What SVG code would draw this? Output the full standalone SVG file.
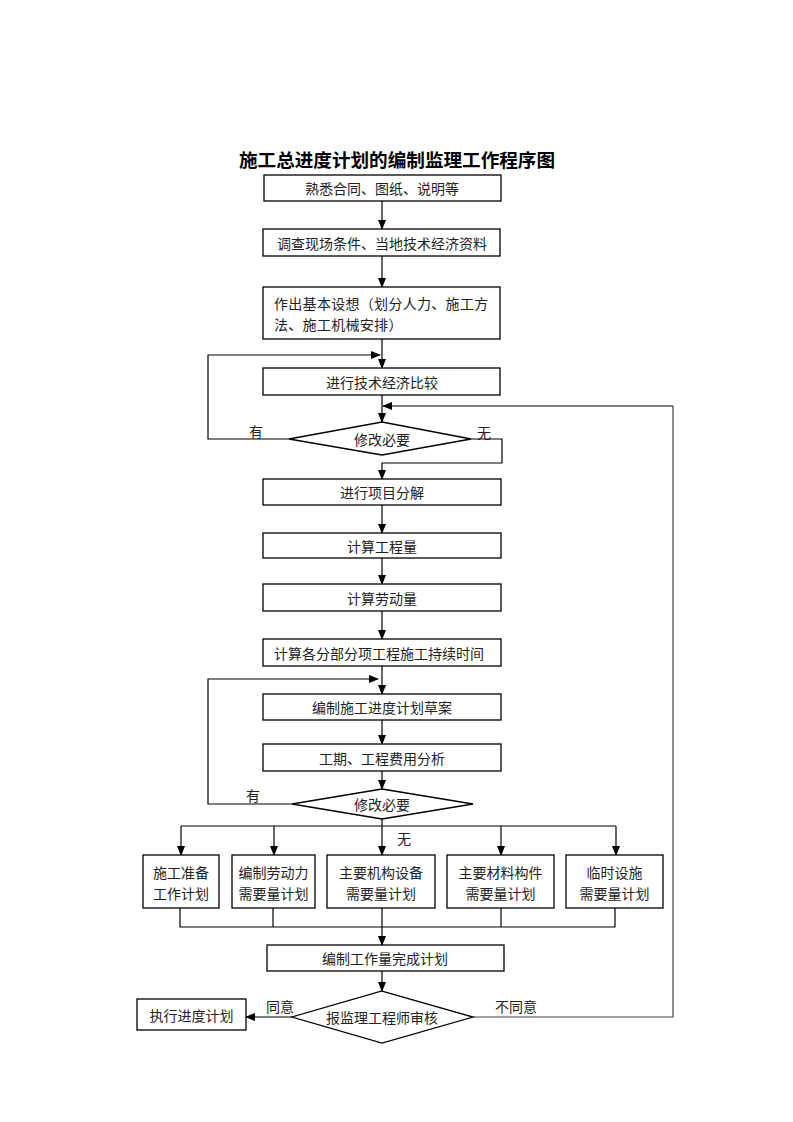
<svg xmlns="http://www.w3.org/2000/svg" width="793" height="1122" viewBox="0 0 793 1122">
<defs>
<marker id="ah" markerWidth="10" markerHeight="10" refX="9" refY="5" orient="auto" markerUnits="userSpaceOnUse" viewBox="0 0 10 10">
<path d="M0,1 L10,5 L0,9 z" fill="#000"/>
</marker>
<style>
.box{fill:#fff;stroke:#000;stroke-width:1.3}
.t{font-family:"Noto Sans CJK SC","Noto Sans CJK JP",sans-serif;font-size:14px;fill:#222;text-anchor:middle;dominant-baseline:central}
.tl{font-family:"Noto Sans CJK SC","Noto Sans CJK JP",sans-serif;font-size:14px;letter-spacing:0.3px;fill:#222;dominant-baseline:central}
.c{fill:none;stroke:#000;stroke-width:1.2}
.a{fill:none;stroke:#000;stroke-width:1.2;marker-end:url(#ah)}
.title{font-family:"Noto Sans CJK SC","Noto Sans CJK JP",sans-serif;font-size:18.6px;font-weight:bold;fill:#000;text-anchor:middle;dominant-baseline:central}
</style>
</defs>
<rect width="793" height="1122" fill="#fff"/>
<text class="title" x="397" y="158">施工总进度计划的编制监理工作程序图</text>

<g id="connectors">
<line class="a" x1="382" y1="201" x2="382" y2="229"/>
<line class="a" x1="382" y1="256" x2="382" y2="287"/>
<line class="a" x1="382" y1="339" x2="382" y2="368"/>
<polyline class="a" points="289,439 208,439 208,355 380,355"/>
<line class="a" x1="382" y1="395" x2="382" y2="422"/>
<polyline class="a" points="471,439 502,439 502,463 382,463 382,479"/>
<polyline class="c" points="473,1017 673,1017 673,406" style="stroke:#444"/>
<line class="a" x1="673" y1="406" x2="383" y2="406"/>
<line class="a" x1="382" y1="505" x2="382" y2="533"/>
<line class="a" x1="382" y1="558" x2="382" y2="584"/>
<line class="a" x1="382" y1="611" x2="382" y2="639"/>
<line class="a" x1="382" y1="666" x2="382" y2="694"/>
<polyline class="a" points="292,804 208,804 208,679 378,679"/>
<line class="a" x1="382" y1="720" x2="382" y2="744"/>
<line class="a" x1="382" y1="771" x2="382" y2="789"/>
<line class="c" x1="382" y1="819" x2="382" y2="826"/>
<line class="c" x1="181" y1="826" x2="616" y2="826"/>
<line class="a" x1="181" y1="826" x2="181" y2="855"/>
<line class="a" x1="274" y1="826" x2="274" y2="855"/>
<line class="a" x1="382" y1="826" x2="382" y2="855"/>
<line class="a" x1="501" y1="826" x2="501" y2="855"/>
<line class="a" x1="616" y1="826" x2="616" y2="855"/>
<polyline class="c" points="180,908 180,927 615,927 615,908"/>
<line class="c" x1="273" y1="908" x2="273" y2="927"/>
<line class="c" x1="501" y1="908" x2="501" y2="927"/>
<line class="a" x1="382" y1="908" x2="382" y2="945"/>
<line class="a" x1="382" y1="971" x2="382" y2="991"/>
<line class="a" x1="292" y1="1017" x2="246" y2="1017"/>
<text class="t" x="256" y="431">有</text>
<text class="t" x="484" y="432">无</text>
<text class="t" x="253" y="795">有</text>
<text class="t" x="404" y="838">无</text>
<text class="t" x="280" y="1006">同意</text>
<text class="t" x="516" y="1006">不同意</text>
</g>

<g id="n1"><rect class="box" x="264" y="175" width="237" height="26"/><text class="t" x="382" y="188">熟悉合同、图纸、说明等</text></g>
<g id="n2"><rect class="box" x="263" y="229" width="237" height="27"/><text class="t" x="382" y="243">调查现场条件、当地技术经济资料</text></g>
<g id="n3"><rect class="box" x="263" y="287" width="237" height="52"/><text class="tl" x="274" y="303">作出基本设想（划分人力、施工方</text><text class="tl" x="274" y="324">法、施工机械安排）</text></g>
<g id="n4"><rect class="box" x="263" y="368" width="237" height="27"/><text class="t" x="382" y="382">进行技术经济比较</text></g>
<g id="d1"><polygon class="box" points="382,422 471,439 382,455 289,439"/><text class="t" x="382" y="439">修改必要</text></g>
<g id="n5"><rect class="box" x="263" y="479" width="238" height="26"/><text class="t" x="382" y="492">进行项目分解</text></g>
<g id="n6"><rect class="box" x="263" y="533" width="238" height="25"/><text class="t" x="382" y="546">计算工程量</text></g>
<g id="n7"><rect class="box" x="263" y="584" width="238" height="27"/><text class="t" x="382" y="598">计算劳动量</text></g>
<g id="n8"><rect class="box" x="263" y="639" width="238" height="27"/><text class="t" x="379" y="653">计算各分部分项工程施工持续时间</text></g>
<g id="n9"><rect class="box" x="263" y="694" width="238" height="26"/><text class="t" x="382" y="707">编制施工进度计划草案</text></g>
<g id="n10"><rect class="box" x="263" y="744" width="238" height="27"/><text class="t" x="382" y="758">工期、工程费用分析</text></g>
<g id="d2"><polygon class="box" points="382,789 473,804 382,819 292,804"/><text class="t" x="382" y="804">修改必要</text></g>
<g id="b1"><rect class="box" x="143" y="855" width="76" height="53"/><text class="t" x="181" y="872">施工准备</text><text class="t" x="181" y="893">工作计划</text></g>
<g id="b2"><rect class="box" x="232" y="855" width="83" height="53"/><text class="t" x="273.5" y="872">编制劳动力</text><text class="t" x="273.5" y="893">需要量计划</text></g>
<g id="b3"><rect class="box" x="327" y="855" width="108" height="53"/><text class="t" x="381" y="872">主要机构设备</text><text class="t" x="381" y="893">需要量计划</text></g>
<g id="b4"><rect class="box" x="447" y="855" width="107" height="53"/><text class="t" x="500.5" y="872">主要材料构件</text><text class="t" x="500.5" y="893">需要量计划</text></g>
<g id="b5"><rect class="box" x="566" y="855" width="97" height="53"/><text class="t" x="614.5" y="872">临时设施</text><text class="t" x="614.5" y="893">需要量计划</text></g>
<g id="n11"><rect class="box" x="267" y="945" width="237" height="26"/><text class="t" x="385" y="958">编制工作量完成计划</text></g>
<g id="d3"><polygon class="box" points="382,991 473,1017 382,1043 292,1017"/><text class="t" x="382" y="1017">报监理工程师审核</text></g>
<g id="n12"><rect class="box" x="137" y="999" width="109" height="31"/><text class="t" x="191.5" y="1015">执行进度计划</text></g>
</svg>
